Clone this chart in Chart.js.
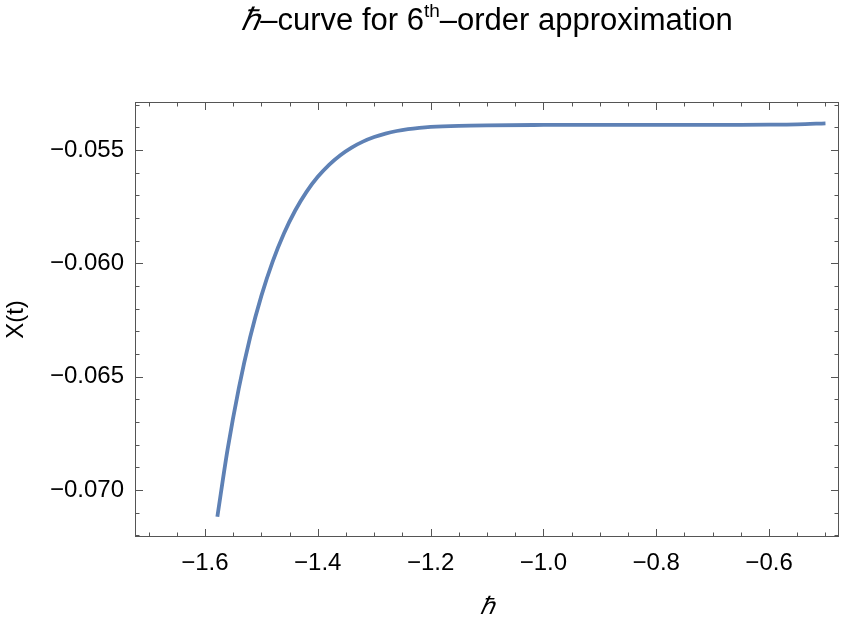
<!DOCTYPE html>
<html>
<head>
<meta charset="utf-8">
<script src="https://cdn.jsdelivr.net/npm/chart.js@4.4.1/dist/chart.umd.min.js"></script>
<style>
  html, body { margin: 0; padding: 0; background: #fff; }
  #wrap { width: 842px; height: 626px; }
</style>
</head>
<body>
<div id="wrap"><canvas id="chart" width="842" height="626"></canvas></div>
<script>
// values
const hbar = [-1.578, -1.56, -1.54, -1.52, -1.50, -1.48, -1.46, -1.44, -1.42, -1.40,
              -1.38, -1.36, -1.34, -1.32, -1.30, -1.28, -1.26, -1.24, -1.22, -1.20,
              -1.15, -1.10, -1.0, -0.9, -0.8, -0.7, -0.65, -0.6, -0.55, -0.5];
const xValues = [-0.071174, -0.068226, -0.065510, -0.063272, -0.061434, -0.059920, -0.058681, -0.057666, -0.056843, -0.056181,
                 -0.055649, -0.055225, -0.054889, -0.054627, -0.054425, -0.054272, -0.054159, -0.054078, -0.054021, -0.053981,
                 -0.053930, -0.053908, -0.053893, -0.053890, -0.053890, -0.053889, -0.053887, -0.053880, -0.053863, -0.053822];

const xTicks = [-1.6, -1.4, -1.2, -1.0, -0.8, -0.6];
const yTicks = [-0.070, -0.065, -0.060, -0.055];
const xMinor = [-1.70, -1.65, -1.55, -1.50, -1.45, -1.35, -1.30, -1.25, -1.15, -1.10, -1.05,
                -0.95, -0.90, -0.85, -0.75, -0.70, -0.65, -0.55, -0.50];
const yMinor = [-0.072, -0.071, -0.069, -0.068, -0.067, -0.066, -0.064, -0.063, -0.062, -0.061,
                -0.059, -0.058, -0.057, -0.056, -0.054, -0.053];
const xRange = [-1.724, -0.476];
const yRange = [-0.07207, -0.05288];

const FONT = '"Liberation Sans", Arial, sans-serif';
const minus = s => s.replace('-', '\u2212');

// frame with inward ticks on all sides, plus the titles
const framePlugin = {
  id: 'frame',
  afterDraw(chart) {
    const { ctx, chartArea: a, scales: { x, y } } = chart;
    ctx.save();
    ctx.strokeStyle = '#555';
    ctx.lineWidth = 1;
    ctx.strokeRect(a.left + 0.5, a.top + 0.5, a.right - a.left - 1, a.bottom - a.top - 1);

    const tick = (x1, y1, x2, y2) => { ctx.beginPath(); ctx.moveTo(x1, y1); ctx.lineTo(x2, y2); ctx.stroke(); };
    xTicks.concat(xMinor).forEach((v, i) => {
      const len = i < xTicks.length ? 8 : 4.5;
      const px = Math.round(x.getPixelForValue(v)) + 0.5;
      tick(px, a.bottom, px, a.bottom - len);
      tick(px, a.top, px, a.top + len);
    });
    yTicks.concat(yMinor).forEach((v, i) => {
      const len = i < yTicks.length ? 8 : 4.5;
      const py = Math.round(y.getPixelForValue(v)) + 0.5;
      tick(a.left, py, a.left + len, py);
      tick(a.right, py, a.right - len, py);
    });

    // title: italic hbar, superscript "th"
    ctx.fillStyle = '#000';
    ctx.textAlign = 'left';
    ctx.textBaseline = 'alphabetic';
    const big = '31px ' + FONT, small = '19px ' + FONT;
    const parts = [['\u210F', 'italic ' + big, 0], ['\u2013curve for 6', big, 0], ['th', small, -13], ['\u2013order approximation', big, 0]];
    let total = 0;
    parts.forEach(p => { ctx.font = p[1]; total += ctx.measureText(p[0]).width; });
    let tx = (a.left + a.right) / 2 - total / 2;
    parts.forEach(p => {
      ctx.font = p[1];
      ctx.fillText(p[0], tx, 30 + p[2]);
      tx += ctx.measureText(p[0]).width;
    });

    // axis titles
    ctx.textAlign = 'center';
    ctx.textBaseline = 'middle';
    ctx.font = 'italic 24px ' + FONT;
    ctx.fillText('\u210F', (a.left + a.right) / 2, 607);
    ctx.save();
    ctx.translate(16, (a.top + a.bottom) / 2);
    ctx.rotate(-Math.PI / 2);
    ctx.font = '24px ' + FONT;
    ctx.fillText('X(t)', 0, 0);
    ctx.restore();
    ctx.restore();
  }
};

new Chart(document.getElementById('chart'), {
  type: 'line',
  data: {
    datasets: [{
      data: hbar.map((h, i) => ({ x: h, y: xValues[i] })),
      borderColor: '#5E81B5',
      borderWidth: 3.8,
      pointRadius: 0,
      cubicInterpolationMode: 'monotone',
      fill: false
    }]
  },
  options: {
    responsive: false,
    animation: false,
    devicePixelRatio: 1,
    layout: { padding: { top: 102, right: 3, left: 0, bottom: 0 } },
    plugins: { legend: { display: false }, tooltip: { enabled: false }, title: { display: false } },
    scales: {
      x: {
        type: 'linear',
        min: xRange[0], max: xRange[1],
        afterBuildTicks: s => { s.ticks = xTicks.map(v => ({ value: v })); },
        afterFit: s => { s.height = 89; },
        grid: { display: false, drawTicks: false },
        border: { display: false },
        ticks: {
          padding: 12,
          color: '#000',
          maxRotation: 0,
          autoSkip: false,
          font: { family: FONT, size: 24 },
          callback: v => minus(v.toFixed(1))
        }
      },
      y: {
        type: 'linear',
        min: yRange[0], max: yRange[1],
        afterBuildTicks: s => { s.ticks = yTicks.map(v => ({ value: v })); },
        afterFit: s => { s.width = 135; },
        grid: { display: false, drawTicks: false },
        border: { display: false },
        ticks: {
          padding: 11,
          color: '#000',
          autoSkip: false,
          font: { family: FONT, size: 24 },
          callback: v => minus(v.toFixed(3))
        }
      }
    }
  },
  plugins: [framePlugin]
});
</script>
</body>
</html>
